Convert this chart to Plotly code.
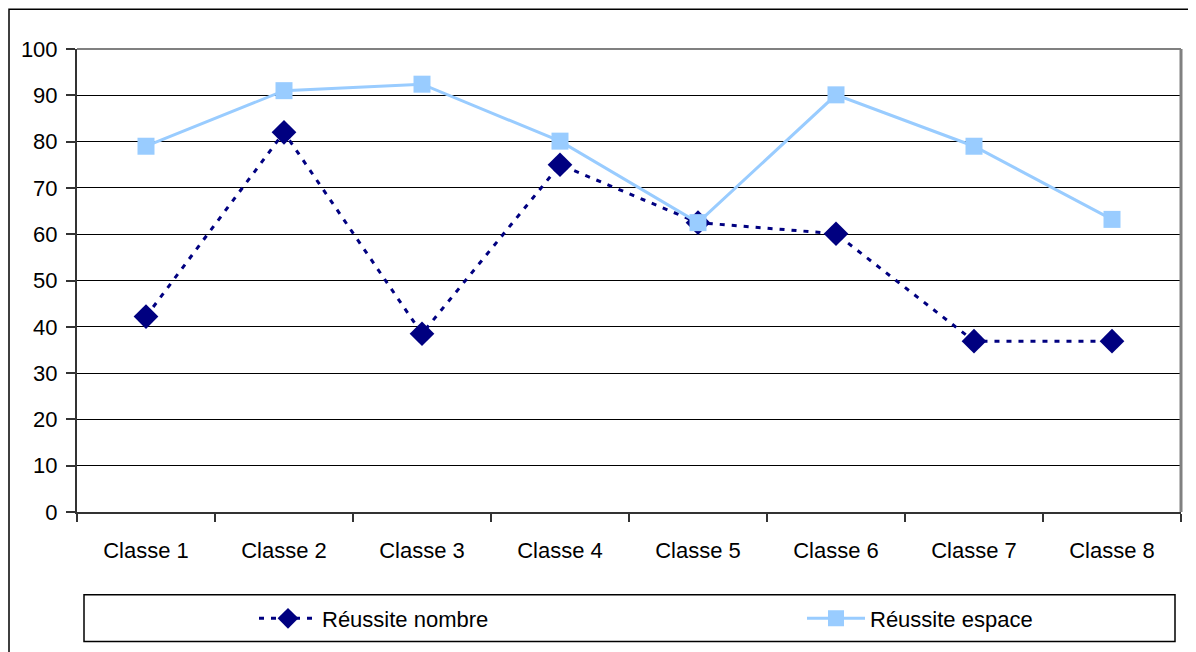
import plotly.graph_objects as go

categories = ["Classe 1", "Classe 2", "Classe 3", "Classe 4",
              "Classe 5", "Classe 6", "Classe 7", "Classe 8"]
reussite_nombre = [42.2, 82.0, 38.5, 75.0, 62.5, 60.1, 36.9, 36.9]
reussite_espace = [79.0, 91.0, 92.4, 80.1, 62.5, 90.1, 79.0, 63.2]
y_ticks = list(range(0, 101, 10))

FONT = "Liberation Sans, Arial, sans-serif"

# the page body has an 8px default margin: compensate so the window matches
OFF = 8
WIN_W, WIN_H = 1196, 652
W, H = WIN_W - OFF, WIN_H - OFF
L, R, T, B = 77, 1181, 49, 514          # plot area in window pixels
pw, ph = R - L, B - T


def px(x):
    return (x - L) / pw


def py(y):
    return (B - y) / ph


fig = go.Figure()
fig.add_trace(go.Scatter(
    x=categories, y=reussite_nombre, name="Réussite nombre",
    mode="lines+markers", legend="legend",
    line=dict(color="#000080", width=3, dash="5px,7px"),
    marker=dict(symbol="diamond", size=19, color="#000080"),
))
fig.add_trace(go.Scatter(
    x=categories, y=reussite_espace, name="Réussite espace",
    mode="lines+markers", legend="legend2",
    line=dict(color="#99CCFF", width=3),
    marker=dict(symbol="square", size=17, color="#99CCFF"),
))

shapes = [
    # plot area top & right border (grey)
    dict(type="line", xref="paper", yref="paper", x0=0, x1=1, y0=1, y1=1,
         line=dict(color="#808080", width=2), layer="above"),
    dict(type="line", xref="paper", yref="paper", x0=1, x1=1, y0=0, y1=1,
         line=dict(color="#808080", width=3), layer="above"),
    # outer chart border
    dict(type="rect", xref="paper", yref="paper",
         x0=px(9), x1=px(1220), y0=py(680), y1=py(9),
         line=dict(color="black", width=1.5), layer="below"),
    # legend box
    dict(type="rect", xref="paper", yref="paper",
         x0=px(84), x1=px(1175), y0=py(644), y1=py(597),
         line=dict(color="black", width=1.5), layer="below"),
]

legend_common = dict(orientation="h", yanchor="middle", y=py(621),
                     xanchor="left", itemwidth=58,
                     font=dict(family=FONT, size=22, color="black"),
                     bgcolor="rgba(0,0,0,0)", borderwidth=0)

fig.update_layout(
    width=W, height=H,
    margin=dict(l=L - OFF, r=WIN_W - R, t=T - OFF, b=WIN_H - B),
    paper_bgcolor="white", plot_bgcolor="white",
    font=dict(family=FONT, size=22, color="black"),
    showlegend=True,
    legend=dict(x=px(254), **legend_common),
    legend2=dict(x=px(802), **legend_common),
    shapes=shapes,
    xaxis=dict(type="category", range=[-0.5, 7.5], tickson="boundaries",
               ticks="outside", ticklen=8, tickcolor="#333", tickwidth=1.5,
               showline=True, linecolor="#333", linewidth=2,
               showgrid=False, zeroline=False, ticklabelstandoff=18,
               automargin=False, fixedrange=True),
    yaxis=dict(range=[0, 100], tickvals=y_ticks, ticks="outside", ticklen=9,
               tickcolor="#333", tickwidth=1.5,
               showline=True, linecolor="#333", linewidth=2,
               showgrid=True, gridcolor="black", gridwidth=1,
               zeroline=False, ticklabelstandoff=4, automargin=False,
               fixedrange=True),
)

fig.write_html("out.html")
